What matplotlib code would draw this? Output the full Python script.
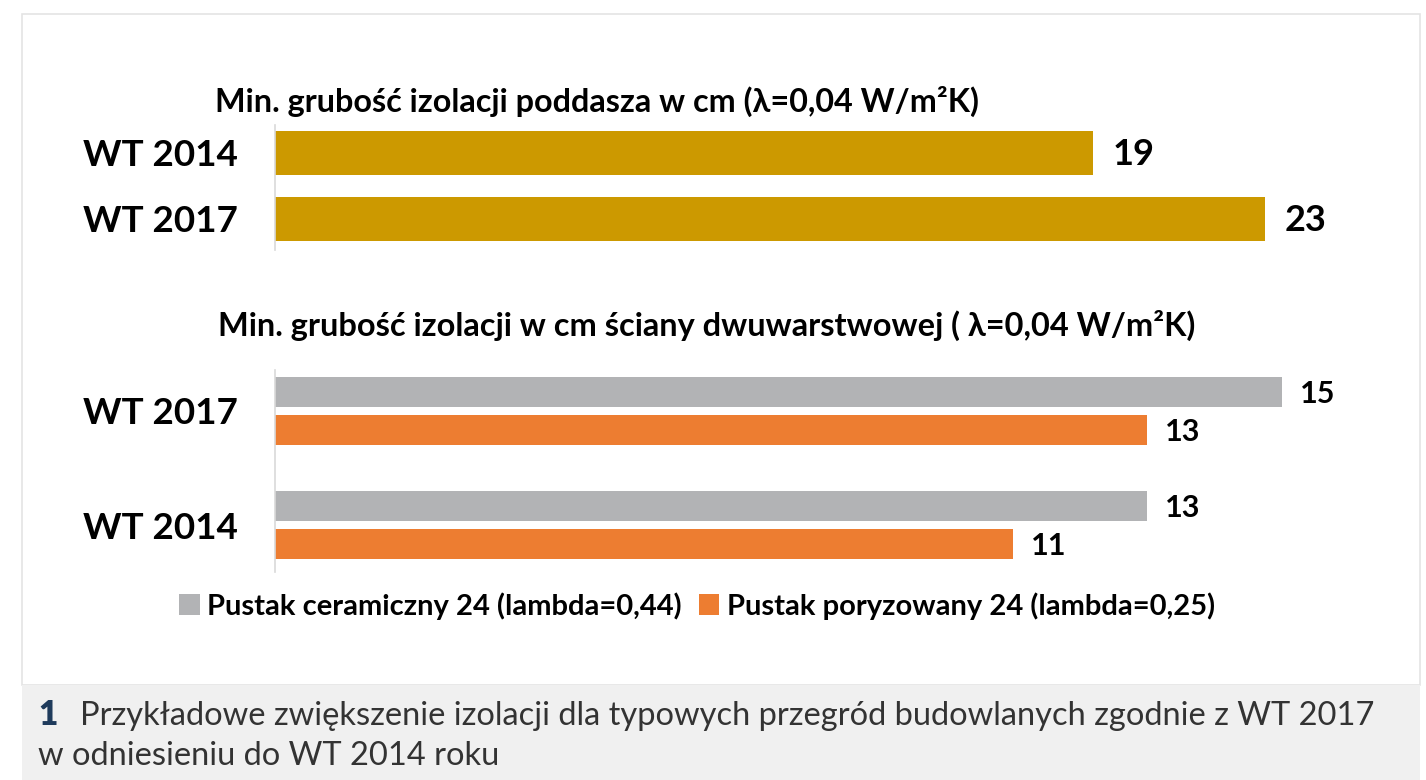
import matplotlib
matplotlib.use("Agg")
from matplotlib import pyplot as plt
from matplotlib.patches import Rectangle

# data
roof_labels = ["WT 2014", "WT 2017"]
roof_values = [19, 23]
roof_title = "Min. grubość izolacji poddasza w cm (λ=0,04 W/m²K)"

wall_labels = ["WT 2017", "WT 2014"]
ceramic_values = [15, 13]
porous_values = [13, 11]
wall_title = "Min. grubość izolacji w cm ściany dwuwarstwowej ( λ=0,04 W/m²K)"
series_names = ["Pustak ceramiczny 24 (lambda=0,44)", "Pustak poryzowany 24 (lambda=0,25)"]

caption_num = "1"
caption_line1 = "Przykładowe zwiększenie izolacji dla typowych przegród budowlanych zgodnie z WT 2017"
caption_line2 = "w odniesieniu do WT 2014 roku"

GOLD = "#CC9900"
GRAY = "#B2B3B5"
ORANGE = "#ED7D31"

W, H = 1426, 780
plt.rcParams["font.family"] = ["Lato", "DejaVu Sans"]
fig = plt.figure(figsize=(W / 100, H / 100), dpi=100)


def box(x0, y0, x1, y1):
    # pixel box (top-left origin) -> figure fraction
    return [x0 / W, 1 - y1 / H, (x1 - x0) / W, (y1 - y0) / H]


def fx(x):
    return x / W


def fy(y):
    return 1 - y / H


# panel + caption band
fig.patches.append(Rectangle((fx(22), fy(685)), fx(1420) - fx(22), fy(14) - fy(685),
                             transform=fig.transFigure, facecolor="white", edgecolor="#E4E4E4",
                             lw=1.2, zorder=-2))
fig.patches.append(Rectangle((fx(22), 0), fx(1420) - fx(22), fy(685),
                             transform=fig.transFigure, facecolor="#F0F0F0", edgecolor="none",
                             zorder=-2))

# top chart
ax1 = fig.add_axes(box(275, 125, 1300, 250))
ypos = range(len(roof_labels))
ax1.barh(ypos, roof_values, height=0.68, color=GOLD)
ax1.set_xlim(0, 1025 / 43.04)
ax1.set_ylim(1 + 31 / 66, -28 / 66)
ax1.set_yticks(list(ypos))
ax1.set_yticklabels(roof_labels, fontsize=26.5, fontweight="bold")
for i, v in enumerate(roof_values):
    ax1.text(v + 0.45, i + 0.03, str(v), va="center", ha="left", fontsize=26, fontweight="bold")

# bottom chart
ax2 = fig.add_axes(box(275, 370, 1305, 572))
ypos2 = list(range(len(wall_labels)))
off = 19 / 114.5
bh = 30 / 114.5
ax2.barh([p - off for p in ypos2], ceramic_values, height=bh, color=GRAY, label=series_names[0])
ax2.barh([p + off for p in ypos2], porous_values, height=bh, color=ORANGE, label=series_names[1])
ax2.set_xlim(0, 1030 / 67.1)
ax2.set_ylim(1 + 47 / 114.5, -41 / 114.5)
ax2.set_yticks(ypos2)
ax2.set_yticklabels(wall_labels, fontsize=26.5, fontweight="bold")
for i in ypos2:
    ax2.text(ceramic_values[i] + 0.27, i - off + 0.02, str(ceramic_values[i]), va="center", ha="left",
             fontsize=22, fontweight="bold")
    ax2.text(porous_values[i] + 0.27, i + off + 0.02, str(porous_values[i]), va="center", ha="left",
             fontsize=22, fontweight="bold")

for ax in (ax1, ax2):
    ax.set_facecolor("none")
    for s in ("top", "right", "bottom"):
        ax.spines[s].set_visible(False)
    ax.spines["left"].set_color("#D9D9D9")
    ax.spines["left"].set_linewidth(1.2)
    ax.set_xticks([])
    ax.tick_params(axis="y", length=0, pad=27)

fig.text(fx(597), fy(101), roof_title, ha="center", va="center", fontsize=23.3, fontweight="bold")
fig.text(fx(707), fy(325), wall_title, ha="center", va="center", fontsize=23.4, fontweight="bold")

handles, labels = ax2.get_legend_handles_labels()
fig.legend(handles, labels, loc="center", bbox_to_anchor=(fx(697), fy(606)), ncol=2, frameon=False,
           prop={"size": 21, "weight": "bold"}, handlelength=0.7, handleheight=0.7,
           handletextpad=0.25, columnspacing=0.6)

fig.text(fx(38), fy(725), caption_num, ha="left", va="baseline", fontsize=24, fontweight="heavy", color="#1F3B5C")
fig.text(fx(80), fy(725), caption_line1, ha="left", va="baseline", fontsize=23.5, color="#333333")
fig.text(fx(38), fy(765), caption_line2, ha="left", va="baseline", fontsize=23.5, color="#333333")

fig.savefig("out.png", dpi=100)
